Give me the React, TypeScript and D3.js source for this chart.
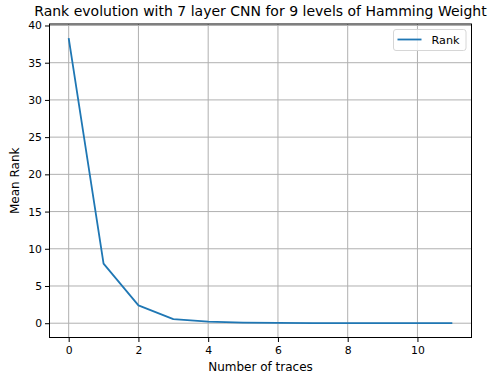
import { useRef, useEffect } from 'react';
import * as d3 from 'd3';

// Mean rank per number of traces
const traces = [0, 1, 2, 3, 4, 5, 6, 7, 8, 9, 10, 11];
const meanRank = [38.3, 8.0, 2.4, 0.55, 0.22, 0.09, 0.04, 0.02, 0.01, 0.01, 0.01, 0.01];
const xTicks = [0, 2, 4, 6, 8, 10];
const yTicks = [0, 5, 10, 15, 20, 25, 30, 35, 40];

const W = 491;
const H = 376;
const FONT = 'DejaVu Sans, sans-serif';

export default function App() {
  const svgRef = useRef<SVGSVGElement>(null);

  useEffect(() => {
    const svg = d3.select(svgRef.current);
    svg.selectAll('*').remove();

    const margin = { top: 24, right: 19.5, bottom: 38.5, left: 49.5 };
    const innerW = W - margin.left - margin.right;
    const innerH = H - margin.top - margin.bottom;

    const x = d3.scaleLinear().domain([-0.55, 11.55]).range([0, innerW]);
    const y = d3.scaleLinear().domain([-1.92, 40.2]).range([innerH, 0]);

    svg.append('rect').attr('width', W).attr('height', H).attr('fill', '#fff');

    // title
    svg.append('text')
      .attr('x', margin.left + innerW / 2)
      .attr('y', 16)
      .attr('text-anchor', 'middle')
      .attr('font-family', FONT)
      .attr('font-size', 14)
      .text('Rank evolution with 7 layer CNN for 9 levels of Hamming Weight');

    const g = svg.append('g')
      .attr('transform', 'translate(' + margin.left + ',' + margin.top + ')');

    // grid
    g.append('g').selectAll('line')
      .data(xTicks)
      .join('line')
      .attr('x1', function (d) { return x(d); })
      .attr('x2', function (d) { return x(d); })
      .attr('y1', 0)
      .attr('y2', innerH)
      .attr('stroke', '#b0b0b0')
      .attr('stroke-width', 1);

    g.append('g').selectAll('line')
      .data(yTicks)
      .join('line')
      .attr('y1', function (d) { return y(d); })
      .attr('y2', function (d) { return y(d); })
      .attr('x1', 0)
      .attr('x2', innerW)
      .attr('stroke', '#b0b0b0')
      .attr('stroke-width', 1);

    // axes
    const xAxis = g.append('g')
      .attr('transform', 'translate(0,' + innerH + ')')
      .call(d3.axisBottom(x).tickValues(xTicks).tickSize(4.5).tickPadding(4.5).tickFormat(d3.format('d')));
    const yAxis = g.append('g')
      .call(d3.axisLeft(y).tickValues(yTicks).tickSize(4.5).tickPadding(3).tickFormat(d3.format('d')));

    [xAxis, yAxis].forEach(function (a) {
      a.select('.domain').remove();
      a.selectAll('line').attr('stroke', '#000').attr('stroke-width', 1);
      a.selectAll('text')
        .attr('font-family', FONT)
        .attr('font-size', 10.8)
        .attr('fill', '#000');
    });

    // line
    const line = d3.line<number>()
      .x(function (_d, i) { return x(traces[i]); })
      .y(function (d) { return y(d); });

    g.append('path')
      .datum(meanRank)
      .attr('d', line)
      .attr('fill', 'none')
      .attr('stroke', '#1f77b4')
      .attr('stroke-width', 1.8)
      .attr('stroke-linejoin', 'round');

    // frame
    g.append('rect')
      .attr('width', innerW)
      .attr('height', innerH)
      .attr('fill', 'none')
      .attr('stroke', '#000')
      .attr('stroke-width', 1);

    // axis labels
    svg.append('text')
      .attr('x', margin.left + innerW / 2)
      .attr('y', 371)
      .attr('text-anchor', 'middle')
      .attr('font-family', FONT)
      .attr('font-size', 12)
      .text('Number of traces');

    svg.append('text')
      .attr('transform', 'translate(19,' + (margin.top + innerH / 2) + ') rotate(-90)')
      .attr('text-anchor', 'middle')
      .attr('font-family', FONT)
      .attr('font-size', 12)
      .text('Mean Rank');

    // legend
    const lg = svg.append('g').attr('transform', 'translate(393.5,29.5)');
    lg.append('rect')
      .attr('width', 72.5)
      .attr('height', 21)
      .attr('rx', 2.5)
      .attr('fill', '#fff')
      .attr('fill-opacity', 0.8)
      .attr('stroke', '#d6d6d6')
      .attr('stroke-width', 1);
    lg.append('line')
      .attr('x1', 4)
      .attr('x2', 28)
      .attr('y1', 10)
      .attr('y2', 10)
      .attr('stroke', '#1f77b4')
      .attr('stroke-width', 1.8);
    lg.append('text')
      .attr('x', 38)
      .attr('y', 14)
      .attr('font-family', FONT)
      .attr('font-size', 11.2)
      .text('Rank');
  }, []);

  return (
    <svg
      ref={svgRef}
      width={W}
      height={H}
      style={{ position: 'absolute', left: 0, top: 0 }}
    />
  );
}
